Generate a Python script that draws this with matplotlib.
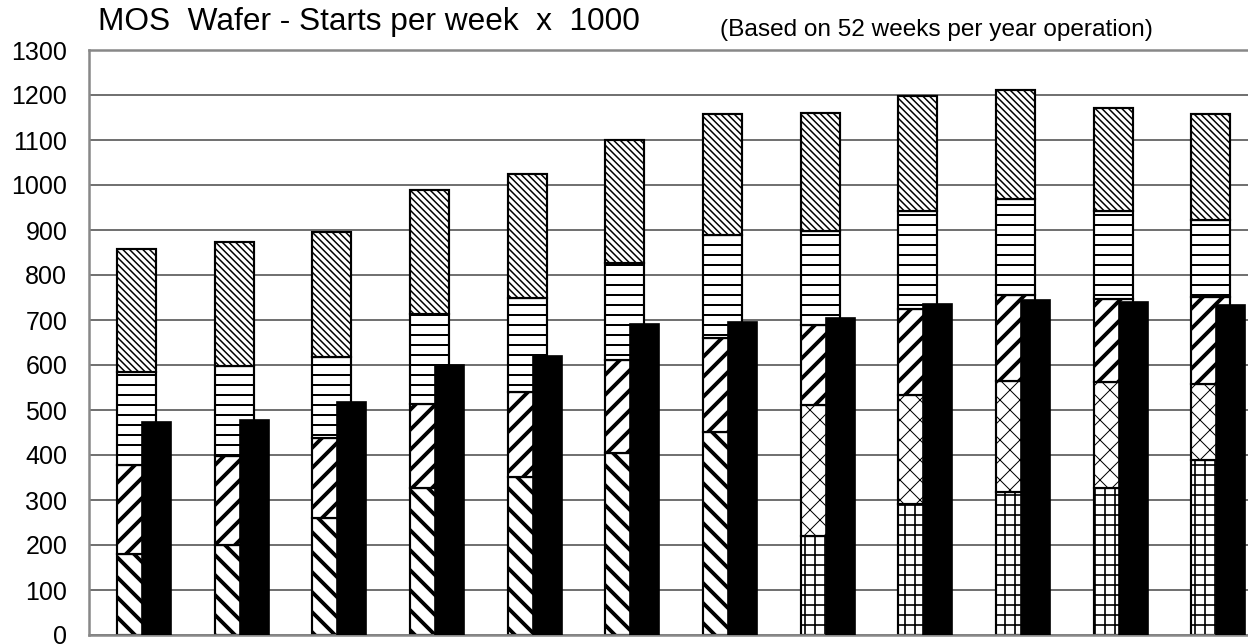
import matplotlib
matplotlib.use("Agg")
import matplotlib.pyplot as plt
import numpy as np

# ---- data (thousand wafer starts per week) ----
groups = list(range(12))
seg_bottom_diag = [181, 201, 261, 326, 352, 405, 452, 0, 0, 0, 0, 0]
seg_grid        = [0, 0, 0, 0, 0, 0, 0, 221, 292, 318, 327, 388]
seg_cross       = [0, 0, 0, 0, 0, 0, 0, 290, 242, 246, 235, 170]
top_fwd_diag    = [377, 397, 437, 513, 541, 612, 661, 688, 725, 755, 746, 752]
top_horiz       = [585, 597, 618, 714, 748, 826, 888, 897, 942, 969, 943, 922]
top_total       = [858, 873, 895, 990, 1024, 1099, 1157, 1160, 1197, 1212, 1171, 1158]
black_bar       = [474, 478, 517, 600, 621, 691, 696, 705, 736, 744, 740, 733]
y_ticks = list(range(0, 1301, 100))
title = "MOS  Wafer - Starts per week  x  1000"
subtitle = "(Based on 52 weeks per year operation)"

plt.rcParams['font.family'] = ['Liberation Sans', 'DejaVu Sans']

DPI = 120
fig = plt.figure(figsize=(1248 / DPI, 644 / DPI), dpi=DPI)
ax = fig.add_axes([89 / 1248, 1 - 635 / 644, 1172 / 1248, 585 / 644])

x = np.array(groups, dtype=float)
b0 = np.array(seg_bottom_diag, float)
bg = np.array(seg_grid, float)
bx = np.array(seg_cross, float)
fwd = np.array(top_fwd_diag, float)
hor = np.array(top_horiz, float)
tot = np.array(top_total, float)
blk = np.array(black_bar, float)

base1 = b0 + bg + bx
h_fwd = fwd - base1
h_hor = hor - fwd
h_top = tot - hor

sx = x - 0.213
sw = 0.40
BS = '\\'

mask0 = b0 > 0
maskg = bg > 0

plt.rcParams['hatch.linewidth'] = 2.3
ax.bar(sx[mask0], b0[mask0], width=sw, align='edge', color='white', edgecolor='black',
       linewidth=1.3, hatch=BS * 2, zorder=2)
plt.rcParams['hatch.linewidth'] = 1.0
ax.bar(sx[maskg], bg[maskg], width=sw, align='edge', color='white', edgecolor='black',
       linewidth=1.3, hatch='++', zorder=2)
plt.rcParams['hatch.linewidth'] = 0.6
ax.bar(sx[maskg], bx[maskg], bottom=bg[maskg], width=sw, align='edge', color='white',
       edgecolor='black', linewidth=1.3, hatch='xx', zorder=2)
plt.rcParams['hatch.linewidth'] = 2.3
ax.bar(sx, h_fwd, bottom=base1, width=sw, align='edge', color='white', edgecolor='black',
       linewidth=1.3, hatch='//', zorder=2)
plt.rcParams['hatch.linewidth'] = 1.2
ax.bar(sx, h_hor, bottom=fwd, width=sw, align='edge', color='white', edgecolor='black',
       linewidth=1.3, hatch='--', zorder=2)
plt.rcParams['hatch.linewidth'] = 0.9
ax.bar(sx, h_top, bottom=hor, width=sw, align='edge', color='white', edgecolor='black',
       linewidth=1.3, hatch=BS * 6, zorder=2)

ax.bar(x + 0.043, blk, width=0.297, align='edge', color='black', edgecolor='black',
       linewidth=1.0, zorder=3)

ax.set_xlim(-0.5, 11.5)
ax.set_ylim(0, 1300)
ax.set_yticks(y_ticks)
ax.set_yticklabels([str(v) for v in y_ticks], fontsize=15)
ax.set_xticks([])
ax.tick_params(axis='y', length=0, pad=13)
ax.yaxis.grid(True, color='#444444', linewidth=0.9, zorder=0)
ax.set_axisbelow(True)
for s in ['left', 'top', 'bottom', 'right']:
    ax.spines[s].set_color('#888888')
    ax.spines[s].set_linewidth(1.5)

fig.text(98 / 1248, 1 - 30 / 644, title, fontsize=19, va='baseline', ha='left')
fig.text(720 / 1248, 1 - 36 / 644, subtitle, fontsize=14.6, va='baseline', ha='left')

fig.savefig("out.png", dpi=DPI)
